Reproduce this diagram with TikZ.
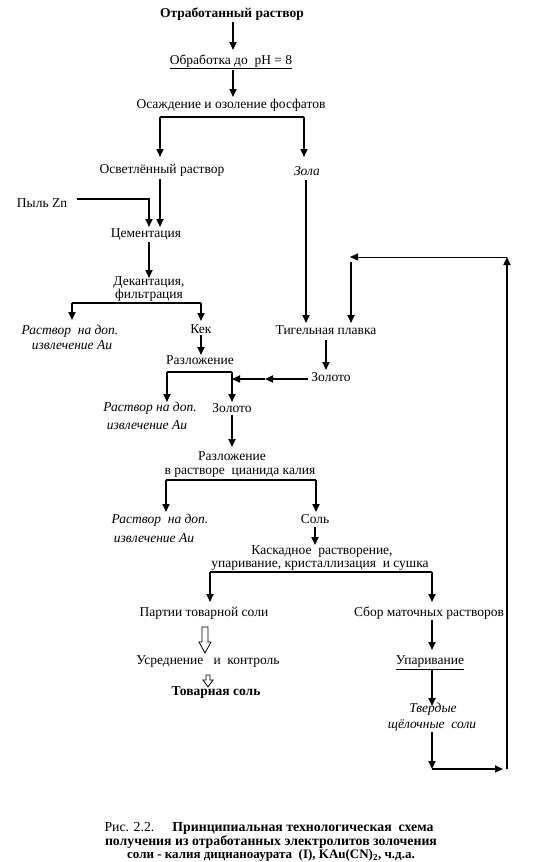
\documentclass[tikz,border=0pt]{standalone}
\usepackage{fontspec}
\setmainfont{Liberation Serif}
\usetikzlibrary{arrows.meta}
\begin{document}
\begin{tikzpicture}[x=1pt,y=-1pt,
  txt/.style={inner sep=0pt,font=\fontsize{13.5}{15}\selectfont},
  itx/.style={txt,font=\fontsize{13.5}{15}\selectfont\itshape},
  btx/.style={txt,font=\fontsize{13.5}{15}\selectfont\bfseries},
  captx/.style={inner sep=0pt,font=\fontsize{13.8}{14}\selectfont},
  captb/.style={inner sep=0pt,font=\fontsize{13.8}{14}\selectfont\bfseries},
  ln/.style={line width=1.7pt},
  thinl/.style={line width=1pt},
  arr/.style={ln,-{Triangle[length=8pt,width=7pt]}},
  tarr/.style={thinl,-{Triangle[length=8pt,width=7pt]}},
  hollow/.style={draw,line width=0.8pt,fill=white}
]
\useasboundingbox (0,0) rectangle (534,862);

% texts
\node[btx] (t1) at (232,14) {Отработанный раствор};
\node[txt] (t2) at (231,62) {\underline{Обработка до\ \ pH = 8}};
\node[txt] (t3) at (231,105) {Осаждение и озоление фосфатов};
\node[txt] (t4) at (162,170) {Осветлённый раствор};
\node[itx] (t5) at (307,171) {Зола};
\node[txt] (t6) at (42,203) {Пыль Zn};
\node[txt] (t7) at (146,235) {Цементация};
\node[txt] (t8a) at (149,283) {Декантация,};
\node[txt] (t8b) at (149,296) {\underline{фильтрация}};
\node[itx] (t9a) at (70,331) {Раствор\ \ на доп.};
\node[itx] (t9b) at (72,345) {извлечение Au};
\node[txt] (t10) at (201,329) {Кек};
\node[txt] (t11) at (200,360) {Разложение};
\node[txt] (t12) at (326,330) {Тигельная плавка};
\node[txt] (t13) at (331,377) {Золото};
\node[itx] (t14a) at (150,408) {Раствор на доп.};
\node[itx] (t14b) at (147,425) {извлечение Au};
\node[txt] (t15) at (232,408) {Золото};
\node[txt] (t16a) at (232,456) {Разложение};
\node[txt] (t16b) at (240,473) {в растворе\ \ цианида калия};
\node[itx] (t17a) at (160,520) {Раствор\ \ на доп.};
\node[itx] (t17b) at (154,538) {извлечение Au};
\node[txt] (t18) at (315,519) {Соль};
\node[txt] (t19a) at (322,552) {Каскадное\ \ растворение,};
\node[txt] (t19b) at (320,567) {\underline{упаривание, кристаллизация\ \ и сушка}};
\node[txt] (t20) at (204,613) {Партии товарной соли};
\node[txt] (t21) at (429,613) {Сбор маточных растворов};
\node[txt] (t22) at (208,662) {Усреднение\ \ \ и\ \ контроль};
\node[btx] (t23) at (216,693) {Товарная соль};
\node[txt] (t24) at (430,663) {\underline{Упаривание}};
\node[itx] (t25a) at (433,709) {Твердые};
\node[itx] (t25b) at (432,725) {щёлочные\ \ соли};

% caption
\node[captx] (c1) at (269,828) {Рис. 2.2.\hspace{18pt}\bfseries Принципиальная технологическая\ \ схема};
\node[captb] (c2) at (271,842) {получения из отработанных электролитов золочения};
\node[captb,font=\fontsize{13}{14}\selectfont\bfseries] (c3) at (271,855) {соли - калия дицианоаурата\ \ (I),\ KAu(CN)\textsubscript{2}, ч.д.а.};

% junction coordinates
\coordinate (j3l) at (160,117);
\coordinate (j3r) at (304,117);
\coordinate (zn) at (149,199);
\coordinate (j8l) at (72,303);
\coordinate (j8r) at (201,303);
\coordinate (j11l) at (167,372);
\coordinate (j11r) at (232,372);
\coordinate (jz) at (232,379);
\coordinate (mz) at (265,379);
\coordinate (j16l) at (166,480);
\coordinate (j16r) at (316,480);
\coordinate (j19l) at (210,572);
\coordinate (j19r) at (432,572);
\coordinate (fbtop) at (507,257);
\coordinate (fbleft) at (350,257);
\coordinate (fbbot) at (507,769);
\coordinate (bl) at (432,769);

% connectors
\draw[arr] (233,22) -- (233,50);
\draw[arr] (233,70) -- (233,97);
\draw[ln] (j3l) -- (j3r);
\draw[arr] (j3l) -- (160,157);
\draw[arr] (j3r) -- (304,157);
\draw[arr] (160,179) -- (160,227);
\draw[arr] (t6.east) ++(10,-4) -- (zn) -- (149,227);
\draw[arr] (149,242) -- (149,278);
\draw[ln] (j8l) -- (j8r);
\draw[arr] (j8l) -- (72,320);
\draw[arr] (j8r) -- (201,321);
\draw[arr] (201,335) -- (201,355);
\draw[ln] (j11l) -- (j11r);
\draw[arr] (j11l) -- (167,402);
\draw[arr] (j11r) -- (232,402);
\draw[arr] (t13.west) ++(-3,2) -- (mz);
\draw[arr] (mz) -- (jz);
\draw[arr] (326,340) -- (326,370);
\draw[arr] (306,180) -- (306,323);
\draw[arr] (fbbot) -- (fbtop);
\draw[tarr] (fbtop) -- (fbleft);
\draw[arr] (351,262) -- (351,323);
\draw[arr] (232,415) -- (232,447);
\draw[ln] (j16l) -- (j16r);
\draw[arr] (j16l) -- (166,512);
\draw[arr] (j16r) -- (316,512);
\draw[arr] (315,527) -- (315,545);
\draw[ln] (j19l) -- (j19r);
\draw[arr] (j19l) -- (210,602);
\draw[arr] (j19r) -- (432,602);
\draw[arr] (432,620) -- (432,650);
\draw[arr] (432,669) -- (432,706);
\draw[arr] (432,732) -- (bl);
\draw[arr] (bl) -- (503,769);

% hollow arrows
\draw[hollow] (202,627) -- (208,627) -- (208,642) -- (211,642) -- (205,653) -- (199,642) -- (202,642) -- cycle;
\draw[hollow] (206,675) -- (210,675) -- (210,680) -- (213,680) -- (208,687) -- (203,680) -- (206,680) -- cycle;
\end{tikzpicture}
\end{document}
